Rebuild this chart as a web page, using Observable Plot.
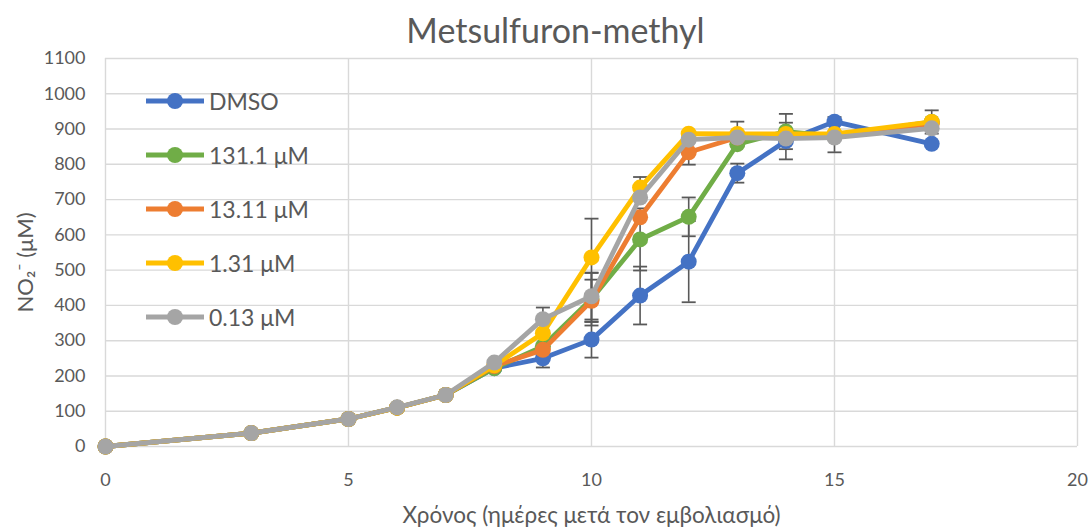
<!DOCTYPE html>
<html>
<head>
<meta charset="utf-8">
<script src="https://cdn.jsdelivr.net/npm/d3@7"></script>
<script src="https://cdn.jsdelivr.net/npm/@observablehq/plot@0.6"></script>
<style>
  html, body { margin: 0; padding: 0; background: #fff; }
  body { width: 1091px; height: 528px; overflow: hidden; font-family: Lato, "Open Sans", "DejaVu Sans", sans-serif; }
  #wrap { position: relative; width: 1091px; height: 528px; }
  #title { position: relative; z-index: 2; height: 36px; line-height: 60px; font-size: 34px; color: #595959; text-align: center; padding-left: 20px; white-space: nowrap; overflow: visible; }
  #legend { position: absolute; left: 144px; top: 74px; }
  .item { display: flex; align-items: center; height: 54px; font-size: 23px; color: #595959; }
  .item svg { margin-right: 3px; }
</style>
</head>
<body>
<div id="wrap">
  <div id="title">Metsulfuron-methyl</div>
  <div id="chart"></div>
  <div id="legend"></div>
</div>
<script>
// ---- data ----
const days = [0, 3, 5, 6, 7, 8, 9, 10, 11, 12, 13, 14, 15, 17];
const seriesNames = ["DMSO", "131.1 μM", "13.11 μM", "1.31 μM", "0.13 μM"];
const seriesColors = ["#4472C4", "#70AD47", "#ED7D31", "#FFC000", "#A5A5A5"];
const dmso   = [0, 38, 78, 110, 146, 222, 250, 303, 428, 524, 775, 866, 921, 858];
const c131   = [0, 38, 78, 110, 146, 222, 284, 418, 587, 651, 857, 893, 880, 920];
const c1311  = [0, 38, 78, 110, 146, 228, 274, 413, 650, 834, 876, 876, 884, 915];
const c131b  = [0, 38, 78, 110, 146, 230, 321, 536, 734, 887, 886, 886, 886, 920];
const c013   = [0, 38, 78, 111, 146, 238, 361, 426, 706, 870, 876, 873, 876, 902];
const errDmso  = [0, 0, 0, 0, 0, 0, 26, 51, 82, 115, 27, 52, 0, 0];
const err131   = [0, 0, 0, 0, 0, 0, 0, 75, 88, 55, 0, 50, 0, 33];
const err1311  = [0, 0, 0, 0, 0, 0, 0, 60, 0, 35, 0, 0, 50, 0];
const err131b  = [0, 0, 0, 0, 0, 0, 0, 110, 30, 0, 35, 0, 0, 0];
const err013   = [0, 0, 0, 0, 0, 0, 33, 66, 0, 0, 0, 0, 0, 0];
const xTicks = [0, 5, 10, 15, 20];
const yTicks = [0, 100, 200, 300, 400, 500, 600, 700, 800, 900, 1000, 1100];
const xLabel = "Χρόνος (ημέρες μετά τον εμβολιασμό)";
const yLabel = "NO₂⁻ (μM)";

// ---- table ----
const values = [dmso, c131, c1311, c131b, c013];
const errs = [errDmso, err131, err1311, err131b, err013];
const rows = [];
seriesNames.forEach((s, i) => {
  days.forEach((d, j) => rows.push({series: s, day: d, value: values[i][j], err: errs[i][j], order: i}));
});
const errRows = rows.filter(r => r.err > 0);

const cap = {draw(ctx, size) { const w = Math.sqrt(size / Math.PI); ctx.moveTo(-w, 0); ctx.lineTo(w, 0); }};
const font = "Lato, 'Open Sans', 'DejaVu Sans', sans-serif";

const chart = Plot.plot({
  width: 1091,
  height: 492,
  marginLeft: 105,
  marginRight: 14,
  marginTop: 22,
  marginBottom: 82,
  style: {fontFamily: font, background: "transparent"},
  x: {domain: [0, 20], ticks: xTicks},
  y: {domain: [0, 1100], ticks: yTicks},
  marks: [
    Plot.gridX(xTicks, {stroke: "#d9d9d9", strokeOpacity: 1, strokeWidth: 1.4}),
    Plot.gridY(yTicks, {stroke: "#d9d9d9", strokeOpacity: 1, strokeWidth: 1.4}),
    Plot.axisX(xTicks, {tickSize: 0, tickPadding: 27, fontSize: 18, fill: "#595959", label: null, tickFormat: d => String(d)}),
    Plot.axisY(yTicks, {tickSize: 0, tickPadding: 20, fontSize: 18, fill: "#595959", label: null, tickFormat: d => String(d)}),
    Plot.ruleX(errRows, {x: "day", y1: d => d.value - d.err, y2: d => d.value + d.err, stroke: "#595959", strokeWidth: 1.6}),
    Plot.dot(errRows, {x: "day", y: d => d.value - d.err, symbol: cap, r: 7, stroke: "#595959", strokeWidth: 1.8, fill: "none"}),
    Plot.dot(errRows, {x: "day", y: d => d.value + d.err, symbol: cap, r: 7, stroke: "#595959", strokeWidth: 1.8, fill: "none"}),
    ...seriesNames.map((s, i) => [
      Plot.line(rows.filter(r => r.series === s), {x: "day", y: "value", stroke: seriesColors[i], strokeWidth: 4.8, strokeLinejoin: "round"}),
      Plot.dot(rows.filter(r => r.series === s), {x: "day", y: "value", fill: seriesColors[i], r: 8})
    ]).flat(),
    Plot.text([xLabel], {text: d => d, frameAnchor: "bottom", dy: 69, fontSize: 22.5, fill: "#595959", lineAnchor: "middle"}),
    Plot.text([yLabel], {text: d => d, frameAnchor: "left", textAnchor: "middle", dx: -80, dy: 10, rotate: -90, fontSize: 22, fill: "#595959", lineAnchor: "middle"})
  ]
});
document.getElementById("chart").appendChild(chart);

// ---- legend ----
const legend = document.getElementById("legend");
seriesNames.forEach((s, i) => {
  const div = document.createElement("div");
  div.className = "item";
  div.innerHTML = `<svg width="62" height="20"><line x1="2" y1="10" x2="60" y2="10" stroke="${seriesColors[i]}" stroke-width="4.8"/><circle cx="31" cy="10" r="8" fill="${seriesColors[i]}"/></svg><span>${s}</span>`;
  legend.appendChild(div);
});
</script>
</body>
</html>
